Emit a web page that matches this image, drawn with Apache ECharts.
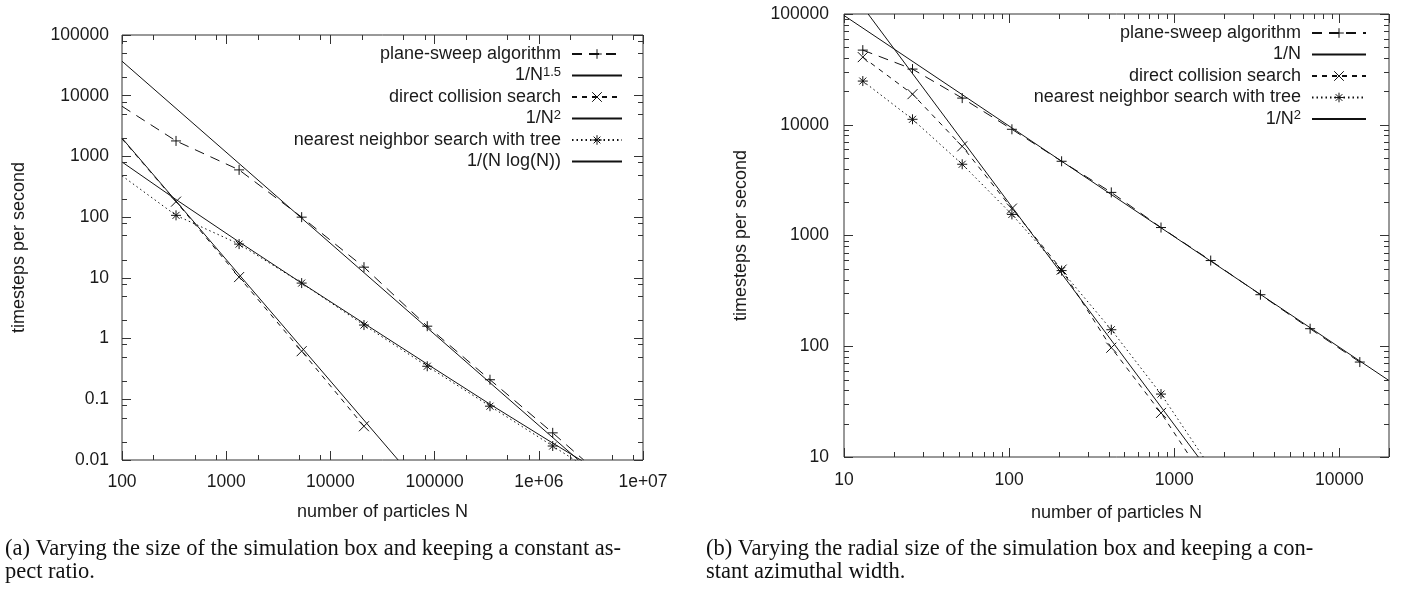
<!DOCTYPE html>
<html>
<head>
<meta charset="utf-8">
<script src="https://cdn.jsdelivr.net/npm/echarts@6/dist/echarts.min.js"></script>
<style>
html,body{margin:0;padding:0;background:#fff;}
#chart{width:1409px;height:590px;}
</style>
</head>
<body>
<div id="chart"></div>
<script>
// ---------- Panel (a) data ----------
const aPlaneN   = [100, 330, 1330, 5300, 21000, 85000, 340000, 1360000, 2700000];
const aPlaneV   = [6700, 1800, 600, 100, 15, 1.6, 0.21, 0.028, 0.01];
const aPlaneMk  = [0, 1, 1, 1, 1, 1, 1, 1, 0];
const aDirectN  = [100, 330, 1330, 5300, 21000];
const aDirectV  = [1950, 180, 10.3, 0.62, 0.036];
const aDirectMk = [0, 1, 1, 1, 1];
const aTreeN    = [100, 330, 1330, 5300, 21000, 85000, 340000, 1360000, 2700000];
const aTreeV    = [480, 107, 36, 8.2, 1.67, 0.35, 0.077, 0.017, 0.008];
const aTreeMk   = [0, 1, 1, 1, 1, 1, 1, 1, 0];
const aN15N     = [100, 2400000];
const aN15V     = [37000, 0.01];
const aN2N      = [100, 44700];
const aN2V      = [2000, 0.01];
const aNlogNN   = [100, 330, 1330, 5300, 21000, 85000, 340000, 1360000, 2600000];
const aNlogNV   = [810, 195, 39, 8.2, 1.78, 0.38, 0.083, 0.019, 0.0097];

const aXTickLabels = ['100', '1000', '10000', '100000', '1e+06', '1e+07'];   // 10^2 .. 10^7
const aYTickLabels = ['0.01', '0.1', '1', '10', '100', '1000', '10000', '100000']; // 10^-2 .. 10^5
const aMinorMult   = [2, 5, 8];

// ---------- Panel (b) data ----------
const bN        = [13, 26, 52, 104, 208, 416, 832, 1664, 3328, 6656, 13312];
const bPlaneV   = [47200, 31800, 17400, 9100, 4680, 2450, 1180, 594, 292, 144, 72];
const bDirectN  = [13, 26, 52, 104, 208, 416, 832, 1250];
const bDirectV  = [40800, 18900, 6380, 1750, 492, 97, 25, 10];
const bDirectMk = [1, 1, 1, 1, 1, 1, 1, 0];
const bTreeN    = [13, 26, 52, 104, 208, 416, 832, 1500];
const bTreeV    = [24800, 11200, 4400, 1550, 482, 141, 37, 10];
const bTreeMk   = [1, 1, 1, 1, 1, 1, 1, 0];
const bN1N      = [10, 20000];
const bN1V      = [97000, 49];
const bN2N      = [14, 1400];
const bN2V      = [100000, 10];

const bXTickLabels = ['10', '100', '1000', '10000'];                 // 10^1 .. 10^4
const bYTickLabels = ['10', '100', '1000', '10000', '100000'];       // 10^1 .. 10^5
const bMinorMult   = [2, 3, 4, 5, 6, 7, 8, 9];

const captionA = ['(a) Varying the size of the simulation box and keeping a constant as-', 'pect ratio.'];
const captionB = ['(b) Varying the radial size of the simulation box and keeping a con-', 'stant azimuthal width.'];

// ---------- helpers ----------
const INK = '#111';
const TXT = '#1a1a1a';
const SANS = '"Liberation Sans", Arial, Helvetica, sans-serif';
const TICK_FS = 17.5;
const LEG_FS = 18;
const SYM_PLUS  = 'path://M5,0L5,10M0,5L10,5';
const SYM_CROSS = 'path://M0,0L10,10M10,0L0,10';
const SYM_STAR  = 'path://M5,0L5,10M0,5L10,5M1.5,1.5L8.5,8.5M8.5,1.5L1.5,8.5';

function pts(xs, ys, mk) {
  return xs.map((x, i) => {
    const item = { value: [x, ys[i]] };
    if (mk && !mk[i]) item.symbol = 'none';
    return item;
  });
}
function fmt(labels, minExp) {
  return function (v) {
    const l = Math.log10(v);
    const e = Math.round(l);
    if (Math.abs(l - e) > 1e-6) return '';
    const s = labels[e - minExp];
    return s === undefined ? '' : s;
  };
}
function minorVals(minExp, maxVal, mults) {
  const out = [];
  for (let e = minExp; Math.pow(10, e) < maxVal; e++) {
    mults.forEach(m => { const v = m * Math.pow(10, e); if (v < maxVal) out.push(v); });
  }
  return out;
}
function lineSeries(name, data, xi, yi, dash, symbol) {
  return {
    type: 'line', name: name, data: data,
    xAxisIndex: xi, yAxisIndex: yi,
    symbol: symbol || 'none', symbolSize: 10, showSymbol: true,
    lineStyle: { color: INK, width: 1, type: dash },
    itemStyle: { color: INK, borderColor: INK, borderWidth: 1 },
    emphasis: { disabled: true }, silent: true, clip: true, z: 3
  };
}
function tickSeries(vals, axis, xi, yi, ref, len) {
  return {
    type: 'custom', xAxisIndex: xi, yAxisIndex: yi, silent: true, clip: false, z: 4,
    data: vals.map(v => axis === 'x' ? [v, ref] : [ref, v]),
    encode: { x: 0, y: 1 },
    renderItem: function (params, api) {
      const cs = params.coordSys;
      const st = { stroke: '#333', lineWidth: 1 };
      if (axis === 'x') {
        const x = Math.round(api.coord([api.value(0), ref])[0]) + 0.5;
        return { type: 'group', children: [
          { type: 'line', shape: { x1: x, y1: cs.y + cs.height, x2: x, y2: cs.y + cs.height - len }, style: st },
          { type: 'line', shape: { x1: x, y1: cs.y, x2: x, y2: cs.y + len }, style: st }
        ]};
      } else {
        const y = Math.round(api.coord([ref, api.value(1)])[1]) + 0.5;
        return { type: 'group', children: [
          { type: 'line', shape: { x1: cs.x, y1: y, x2: cs.x + len, y2: y }, style: st },
          { type: 'line', shape: { x1: cs.x + cs.width, y1: y, x2: cs.x + cs.width - len, y2: y }, style: st }
        ]};
      }
    }
  };
}
function logAxis(gi, pos, min, max, labels, minExp, showLabel, margin, extra) {
  return Object.assign({
    type: 'log', logBase: 10, gridIndex: gi, position: pos, min: min, max: max, interval: 1,
    axisLine: { show: false },
    axisTick: { show: true, inside: true, length: 9, lineStyle: { color: '#333', width: 1 } },
    minorTick: { show: false },
    splitLine: { show: false },
    axisLabel: { show: showLabel, formatter: fmt(labels, minExp), color: TXT,
                 fontFamily: SANS, fontSize: TICK_FS, margin: margin || 10 },
    nameTextStyle: { color: TXT, fontFamily: SANS, fontSize: LEG_FS }
  }, extra || {});
}
function legendItem(name, right, top, width) {
  return {
    data: [name], orient: 'vertical', align: 'right', right: right, top: top,
    padding: 0, itemWidth: width, itemHeight: 12, itemGap: 0, selectedMode: false,
    itemStyle: { borderWidth: 1 },
    textStyle: {
      color: TXT, fontFamily: SANS, fontSize: LEG_FS, lineHeight: 20, padding: [0, 6, 0, 0],
      rich: { sup: { fontSize: 13, fontFamily: SANS, color: TXT, verticalAlign: 'top', lineHeight: 8 } }
    },
    formatter: function (n) { return n.replace(/\^([\d.]+)$/, '{sup|$1}'); }
  };
}

// ---------- option ----------
const aLegendRows = [54, 75.5, 97, 118.5, 140, 161.5];
const bLegendRows = [33, 54.5, 76, 97.5, 119];
const aNames = ['plane-sweep algorithm', '1/N^1.5', 'direct collision search', '1/N^2', 'nearest neighbor search with tree', '1/(N log(N))'];
const bNames = ['plane-sweep algorithm', '1/N', 'direct collision search', 'nearest neighbor search with tree', '1/N^2'];

const legends = [];
aNames.forEach((n, i) => legends.push(legendItem(n, 786, aLegendRows[i] - 10, 50)));
bNames.forEach((n, i) => legends.push(legendItem(n, 42, bLegendRows[i] - 10, 54)));

const CAP_FONT = '22.5px "Liberation Serif", "Times New Roman", serif';

const option = {
  animation: false,
  backgroundColor: '#fff',
  grid: [
    { left: 122, top: 35, width: 521, height: 425, show: true, borderColor: '#333', borderWidth: 1, backgroundColor: 'transparent' },
    { left: 844, top: 14, width: 545, height: 443, show: true, borderColor: '#333', borderWidth: 1, backgroundColor: 'transparent' }
  ],
  xAxis: [
    logAxis(0, 'bottom', 100, 1e7, aXTickLabels, 2, true, 13, { name: 'number of particles N', nameLocation: 'middle', nameGap: 43 }),
    logAxis(0, 'top', 100, 1e7, aXTickLabels, 2, false),
    logAxis(1, 'bottom', 10, 20000, bXTickLabels, 1, true, 14, { name: 'number of particles N', nameLocation: 'middle', nameGap: 47 }),
    logAxis(1, 'top', 10, 20000, bXTickLabels, 1, false)
  ],
  yAxis: [
    logAxis(0, 'left', 0.01, 100000, aYTickLabels, -2, true, 13, { name: 'timesteps per second', nameLocation: 'middle', nameGap: 94 }),
    logAxis(0, 'right', 0.01, 100000, aYTickLabels, -2, false),
    logAxis(1, 'left', 10, 100000, bYTickLabels, 1, true, 15, { name: 'timesteps per second', nameLocation: 'middle', nameGap: 94 }),
    logAxis(1, 'right', 10, 100000, bYTickLabels, 1, false)
  ],
  legend: legends,
  series: [
    // panel (a)
    lineSeries('plane-sweep algorithm', pts(aPlaneN, aPlaneV, aPlaneMk), 0, 0, [10, 7], SYM_PLUS),
    lineSeries('1/N^1.5', pts(aN15N, aN15V), 0, 0, 'solid'),
    lineSeries('direct collision search', pts(aDirectN, aDirectV, aDirectMk), 0, 0, [5, 5], SYM_CROSS),
    lineSeries('1/N^2', pts(aN2N, aN2V), 0, 0, 'solid'),
    lineSeries('nearest neighbor search with tree', pts(aTreeN, aTreeV, aTreeMk), 0, 0, [1.5, 3], SYM_STAR),
    lineSeries('1/(N log(N))', pts(aNlogNN, aNlogNV), 0, 0, 'solid'),
    // panel (b)
    lineSeries('plane-sweep algorithm', pts(bN, bPlaneV), 2, 2, [10, 7], SYM_PLUS),
    lineSeries('1/N', pts(bN1N, bN1V), 2, 2, 'solid'),
    lineSeries('direct collision search', pts(bDirectN, bDirectV, bDirectMk), 2, 2, [5, 5], SYM_CROSS),
    lineSeries('nearest neighbor search with tree', pts(bTreeN, bTreeV, bTreeMk), 2, 2, [1.5, 3], SYM_STAR),
    lineSeries('1/N^2', pts(bN2N, bN2V), 2, 2, 'solid'),
    // minor ticks
    tickSeries(minorVals(2, 1e7, aMinorMult), 'x', 0, 0, 1, 5),
    tickSeries(minorVals(-2, 100000, aMinorMult), 'y', 0, 0, 1000, 5),
    tickSeries(minorVals(1, 20000, bMinorMult), 'x', 2, 2, 100, 5),
    tickSeries(minorVals(1, 100000, bMinorMult), 'y', 2, 2, 100, 5)
  ],
  graphic: [
    { type: 'text', left: 5, top: 538, style: { text: captionA.join('\n'), font: CAP_FONT, fill: '#111', lineHeight: 23 } },
    { type: 'text', left: 706, top: 538, style: { text: captionB.join('\n'), font: CAP_FONT, fill: '#111', lineHeight: 23 } }
  ]
};

// hide the marker in legend icons of the plain reference lines
const plainNames = ['1/N^1.5', '1/N^2', '1/(N log(N))', '1/N'];
option.legend.forEach(lg => {
  lg.data = lg.data.map(n => plainNames.indexOf(n) >= 0 ? { name: n, itemStyle: { opacity: 0 } } : n);
});

const chart = echarts.init(document.getElementById('chart'), null, { renderer: 'canvas' });
chart.setOption(option);
</script>
</body>
</html>
